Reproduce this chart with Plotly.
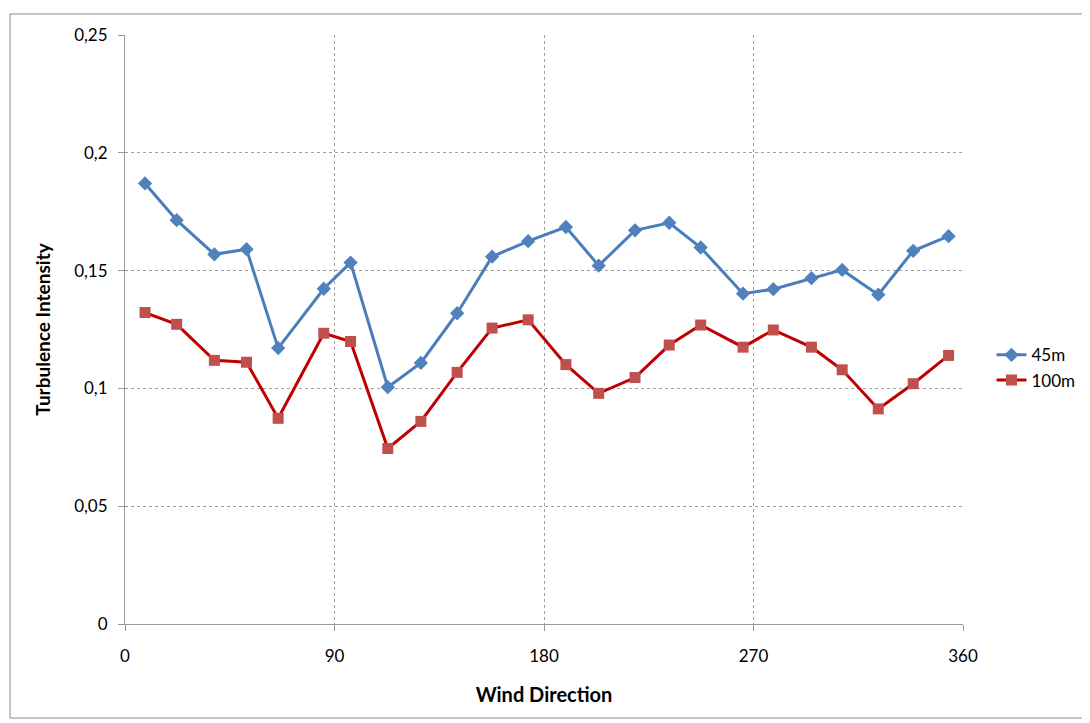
import plotly.graph_objects as go

direction = [8.6, 22.2, 38.4, 52.2, 65.8, 85.4, 96.9, 112.9, 127.1, 142.7, 157.7, 173.2,
             189.4, 203.5, 219.1, 233.8, 247.3, 265.5, 278.5, 294.9, 308.1, 323.6, 338.6, 353.8]
ti_45m = [0.187, 0.1714, 0.1569, 0.1591, 0.1171, 0.1423, 0.1534, 0.1005, 0.1108, 0.1319, 0.1559, 0.1625,
          0.1685, 0.1521, 0.1671, 0.1703, 0.1598, 0.1402, 0.1421, 0.1468, 0.1503, 0.1398, 0.1584, 0.1646]
ti_100m = [0.1322, 0.1272, 0.1119, 0.1111, 0.0873, 0.1234, 0.1199, 0.0745, 0.086, 0.1068, 0.1256, 0.1291,
           0.1101, 0.0979, 0.1046, 0.1184, 0.1269, 0.1175, 0.1248, 0.1175, 0.1079, 0.0913, 0.102, 0.114]

x_ticks = [0, 90, 180, 270, 360]
y_ticks = [0, 0.05, 0.1, 0.15, 0.2, 0.25]
y_ticktext = ["0", "0,05", "0,1", "0,15", "0,2", "0,25"]

font_family = "Lato, 'Open Sans', sans-serif"

fig = go.Figure()
fig.add_trace(go.Scatter(
    x=direction, y=ti_45m, name="45m", mode="lines+markers",
    line=dict(color="#4A7EBB", width=3),
    marker=dict(symbol="diamond", size=11, color="#4F81BD"),
))
fig.add_trace(go.Scatter(
    x=direction, y=ti_100m, name="100m", mode="lines+markers",
    line=dict(color="#C00000", width=3),
    marker=dict(symbol="square", size=11, color="#C0504D"),
))

axis_common = dict(
    showline=True, linecolor="#9A9A9A", linewidth=1,
    showgrid=True, gridcolor="#A0A0A0", griddash="3px,3px", gridwidth=1,
    ticks="outside", ticklen=6, tickcolor="#9A9A9A",
    tickfont=dict(family=font_family, size=17, color="#000000"),
    zeroline=False,
)

fig.update_layout(
    width=1090, height=723,
    paper_bgcolor="white", plot_bgcolor="white",
    margin=dict(l=117, r=135, t=27, b=107, autoexpand=False),
    font=dict(family=font_family, color="#000000"),
    xaxis=dict(
        range=[0, 360], tickvals=x_ticks, ticklabelstandoff=11,
        title=dict(text="<b>Wind Direction</b>", font=dict(size=20, family=font_family), standoff=22),
        **axis_common,
    ),
    yaxis=dict(
        range=[0, 0.25], tickvals=y_ticks, ticktext=y_ticktext, ticklabelstandoff=7,
        title=dict(text="<b>Turbulence Intensity</b>", font=dict(size=19, family=font_family), standoff=18),
        **axis_common,
    ),
    legend=dict(
        x=1.034, y=0.435, xanchor="left", yanchor="middle",
        font=dict(family=font_family, size=17),
        bgcolor="rgba(0,0,0,0)", tracegroupgap=2,
    ),
    shapes=[dict(
        type="rect", xref="paper", yref="paper",
        x0=-0.1372, x1=1.1456, y0=-0.1596, y1=1.0357,
        line=dict(color="#8C8C8C", width=1), fillcolor="rgba(0,0,0,0)",
    )],
)

fig.write_html("out.html")
